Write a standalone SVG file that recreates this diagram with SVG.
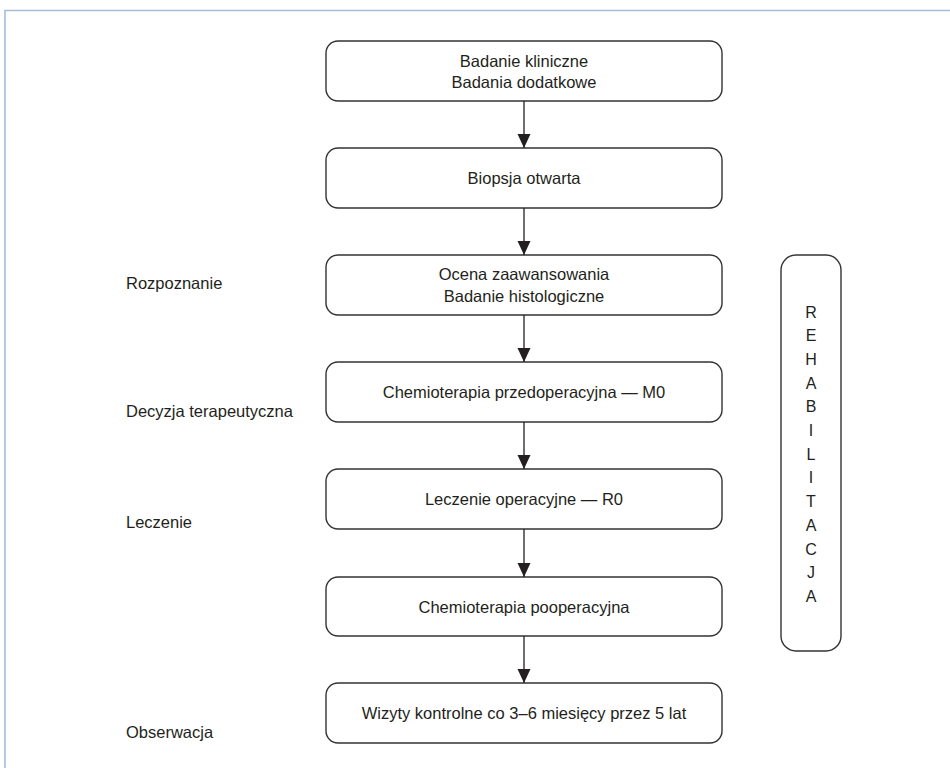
<svg xmlns="http://www.w3.org/2000/svg" width="950" height="768" viewBox="0 0 950 768">
<defs>
<style>
.box{fill:#fff;stroke:#333;stroke-width:1.4}
.t{font-family:"Liberation Sans",Arial,sans-serif;font-size:16.5px;fill:#231f20;text-anchor:middle}
.r{font-family:"Liberation Sans",Arial,sans-serif;font-size:16px;fill:#231f20;text-anchor:middle}
.l{font-family:"Liberation Sans",Arial,sans-serif;font-size:16.5px;fill:#231f20}
.c{stroke:#231f20;stroke-width:1.3;fill:none}
</style>
<marker id="ah" markerUnits="userSpaceOnUse" markerWidth="14" markerHeight="14" viewBox="0 0 14 14" refX="14" refY="7" orient="auto">
<path d="M0,0.5 L14,7 L0,13.5 Z" fill="#231f20"/>
</marker>
</defs>
<rect width="950" height="768" fill="#fff"/>
<path d="M5,768 V10.5 H950" fill="none" stroke="#a3bedb" stroke-width="1.6"/>

<g id="n1"><rect class="box" x="326" y="41" width="396" height="60" rx="12"/><text class="t" x="524" y="66.5">Badanie kliniczne</text><text class="t" x="524" y="88">Badania dodatkowe</text></g>
<g id="n2"><rect class="box" x="326" y="148" width="396" height="60" rx="12"/><text class="t" x="524" y="184">Biopsja otwarta</text></g>
<g id="n3"><rect class="box" x="326" y="255" width="396" height="60" rx="12"/><text class="t" x="524" y="280">Ocena zaawansowania</text><text class="t" x="524" y="301.5">Badanie histologiczne</text></g>
<g id="n4"><rect class="box" x="326" y="362" width="396" height="60" rx="12"/><text class="t" x="524" y="398">Chemioterapia przedoperacyjna — M0</text></g>
<g id="n5"><rect class="box" x="326" y="469" width="396" height="60" rx="12"/><text class="t" x="524" y="505">Leczenie operacyjne — R0</text></g>
<g id="n6"><rect class="box" x="326" y="577" width="396" height="59" rx="12"/><text class="t" x="524" y="612.5">Chemioterapia pooperacyjna</text></g>
<g id="n7"><rect class="box" x="326" y="683" width="396" height="60" rx="12"/><text class="t" x="524" y="719">Wizyty kontrolne co 3–6 miesięcy przez 5 lat</text></g>

<g id="rehab"><rect class="box" x="781" y="255" width="60" height="396" rx="15"/>
<text class="r" x="811">
<tspan x="811" y="317.5">R</tspan><tspan x="811" y="341.2">E</tspan><tspan x="811" y="364.9">H</tspan><tspan x="811" y="388.6">A</tspan><tspan x="811" y="412.3">B</tspan><tspan x="811" y="436">I</tspan><tspan x="811" y="459.7">L</tspan><tspan x="811" y="483.4">I</tspan><tspan x="811" y="507.1">T</tspan><tspan x="811" y="530.8">A</tspan><tspan x="811" y="554.5">C</tspan><tspan x="811" y="578.2">J</tspan><tspan x="811" y="601.9">A</tspan>
</text></g>

<g id="labels">
<text class="l" x="126" y="289">Rozpoznanie</text>
<text class="l" x="126" y="417">Decyzja terapeutyczna</text>
<text class="l" x="126" y="528">Leczenie</text>
<text class="l" x="126" y="738">Obserwacja</text>
</g>

<g id="connectors">
<path class="c" d="M524,101 V148" marker-end="url(#ah)"/>
<path class="c" d="M524,208 V255" marker-end="url(#ah)"/>
<path class="c" d="M524,315 V362" marker-end="url(#ah)"/>
<path class="c" d="M524,422 V469" marker-end="url(#ah)"/>
<path class="c" d="M524,529 V577" marker-end="url(#ah)"/>
<path class="c" d="M524,636 V683" marker-end="url(#ah)"/>
</g>
</svg>
